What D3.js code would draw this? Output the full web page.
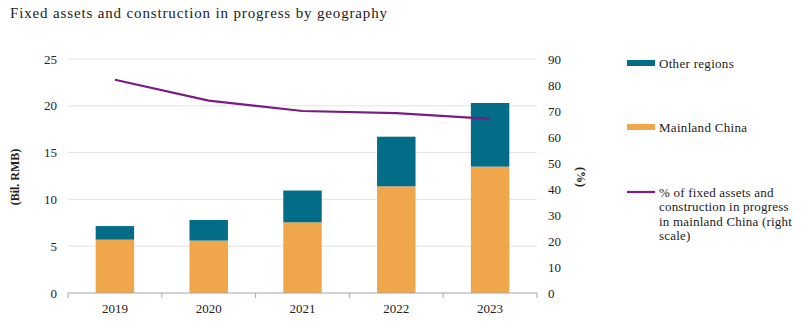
<!DOCTYPE html>
<html>
<head>
<meta charset="utf-8">
<script src="https://cdn.jsdelivr.net/npm/d3@7"></script>
<style>
  body { margin: 0; background: #fff; }
</style>
</head>
<body>
<div id="chart"></div>
<script>
// data
var years = ["2019", "2020", "2021", "2022", "2023"];
var mainland = [5.7, 5.6, 7.55, 11.4, 13.5];
var other = [1.45, 2.2, 3.4, 5.3, 6.8];
var mainlandPct = [82, 74, 70, 69.2, 67];
var leftTicks = [0, 5, 10, 15, 20, 25];
var rightTicks = [0, 10, 20, 30, 40, 50, 60, 70, 80, 90];

var W = 808, H = 334;
var margin = {top: 59, left: 68, right: 271, bottom: 41};
var width = W - margin.left - margin.right,
    height = H - margin.top - margin.bottom;

var colOther = "#036d88", colMain = "#f0a64b", colLine = "#7a1b86";
var serif = "'Liberation Serif', 'Times New Roman', Times, serif";

var svg = d3.select("#chart").append("svg")
  .attr("width", W).attr("height", H)
  .attr("font-family", serif)
  .style("font-family", serif);

svg.append("text")
  .attr("x", 10).attr("y", 18)
  .attr("fill", "#222")
  .style("font-size", "15px")
  .style("letter-spacing", "0.85px")
  .text("Fixed assets and construction in progress by geography");

var g = svg.append("g")
  .attr("transform", "translate(" + margin.left + "," + margin.top + ")");

var x = d3.scaleBand().domain(years).range([0, width]).paddingInner(0.59).paddingOuter(0.295);
var yL = d3.scaleLinear().domain([0, 25]).range([height, 0]);
var yR = d3.scaleLinear().domain([0, 90]).range([height, 0]);

// gridlines
g.selectAll(".grid").data(leftTicks.slice(1)).enter().append("line")
  .attr("x1", 0).attr("x2", width)
  .attr("y1", function(d) { return yL(d); }).attr("y2", function(d) { return yL(d); })
  .attr("stroke", "#e3e3e3").attr("stroke-width", 1);

// bars
g.selectAll(".main").data(years).enter().append("rect")
  .attr("x", function(d) { return x(d); })
  .attr("width", x.bandwidth())
  .attr("y", function(d, i) { return yL(mainland[i]); })
  .attr("height", function(d, i) { return height - yL(mainland[i]); })
  .attr("fill", colMain);

g.selectAll(".other").data(years).enter().append("rect")
  .attr("x", function(d) { return x(d); })
  .attr("width", x.bandwidth())
  .attr("y", function(d, i) { return yL(mainland[i] + other[i]); })
  .attr("height", function(d, i) { return yL(mainland[i]) - yL(mainland[i] + other[i]); })
  .attr("fill", colOther);

// line
var line = d3.line()
  .x(function(d, i) { return x(years[i]) + x.bandwidth() / 2; })
  .y(function(d) { return yR(d); });

g.append("path").datum(mainlandPct)
  .attr("d", line)
  .attr("fill", "none")
  .attr("stroke", colLine)
  .attr("stroke-width", 2.2);

// x axis
var step = x.step();
var xAxis = g.append("g").attr("transform", "translate(0," + height + ")");
xAxis.append("line").attr("x1", 0).attr("x2", width).attr("stroke", "#a6a6a6");
xAxis.selectAll(".tk").data(d3.range(years.length + 1)).enter().append("line")
  .attr("x1", function(d) { return d * step; }).attr("x2", function(d) { return d * step; })
  .attr("y1", 0).attr("y2", 5).attr("stroke", "#a6a6a6");
xAxis.selectAll(".lbl").data(years).enter().append("text")
  .attr("x", function(d) { return x(d) + x.bandwidth() / 2; })
  .attr("y", 20)
  .attr("text-anchor", "middle")
  .attr("fill", "#222")
  .style("font-size", "13px")
  .text(function(d) { return d; });

// left axis labels
g.selectAll(".ly").data(leftTicks).enter().append("text")
  .attr("x", -11).attr("y", function(d) { return yL(d); })
  .attr("dy", "0.35em").attr("text-anchor", "end")
  .attr("fill", "#222")
  .style("font-size", "13px")
  .text(function(d) { return d; });

// right axis labels
g.selectAll(".ry").data(rightTicks).enter().append("text")
  .attr("x", width + 11).attr("y", function(d) { return yR(d); })
  .attr("dy", "0.35em").attr("text-anchor", "start")
  .attr("fill", "#222")
  .style("font-size", "13px")
  .text(function(d) { return d; });

// axis titles
svg.append("text")
  .attr("transform", "translate(19,177) rotate(-90)")
  .attr("text-anchor", "middle")
  .attr("fill", "#222")
  .style("font-size", "12px").style("font-weight", "bold")
  .text("(Bil. RMB)");

svg.append("text")
  .attr("transform", "translate(577,177) rotate(90)")
  .attr("text-anchor", "middle")
  .attr("fill", "#222")
  .style("font-size", "12px").style("font-weight", "bold")
  .text("(%)");

// legend
var legend = svg.append("g").attr("transform", "translate(627,0)").attr("fill", "#222");
legend.append("rect").attr("x", 0).attr("y", 60).attr("width", 28).attr("height", 6).attr("fill", colOther);
legend.append("text").attr("x", 32).attr("y", 63).attr("dy", "0.35em")
  .style("font-size", "13px").style("letter-spacing", "0.3px").text("Other regions");

legend.append("rect").attr("x", 0).attr("y", 124).attr("width", 28).attr("height", 6).attr("fill", colMain);
legend.append("text").attr("x", 32).attr("y", 127).attr("dy", "0.35em")
  .style("font-size", "13px").style("letter-spacing", "0.3px").text("Mainland China");

legend.append("line").attr("x1", 0).attr("x2", 28).attr("y1", 192).attr("y2", 192)
  .attr("stroke", colLine).attr("stroke-width", 2.2);
var lineLabel = ["% of fixed assets and", "construction in progress", "in mainland China (right", "scale)"];
legend.selectAll(".ll").data(lineLabel).enter().append("text")
  .attr("x", 32).attr("y", function(d, i) { return 192 + i * 14.5; })
  .attr("dy", "0.35em")
  .style("font-size", "13px").style("letter-spacing", "0.2px")
  .text(function(d) { return d; });
</script>
</body>
</html>
